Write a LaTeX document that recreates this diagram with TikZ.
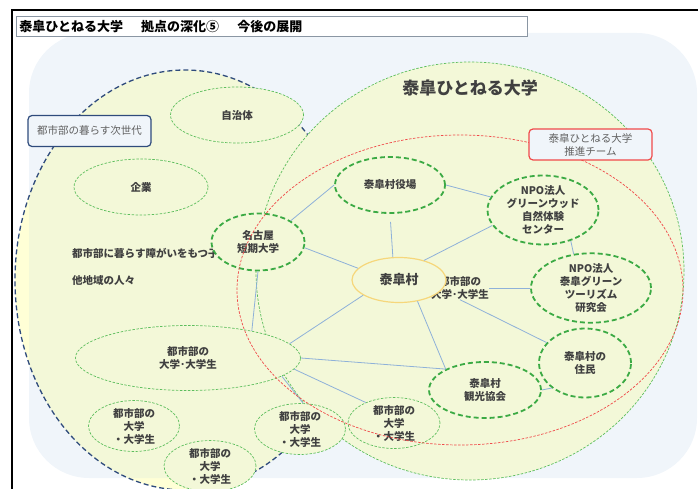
\documentclass[tikz,border=0pt]{standalone}
\usepackage{fontspec}
\setmainfont{Noto Sans CJK JP}
\usetikzlibrary{positioning}
\usetikzlibrary{shapes.geometric}
\definecolor{bgblue}{HTML}{F0F5FA}
\definecolor{paleyel}{HTML}{F3F8D8}
\definecolor{yelside}{HTML}{FFFFD6}
\definecolor{dgreen}{HTML}{3BAA44}
\definecolor{lgreen}{HTML}{5DBE5D}
\definecolor{navy}{HTML}{2F4B7C}
\definecolor{redline}{HTML}{F04A4A}
\definecolor{lblue}{HTML}{8EB1D9}
\definecolor{muragelb}{HTML}{F6D77B}
\definecolor{dgray}{HTML}{404040}
\definecolor{mgray}{HTML}{606060}
\definecolor{titelrand}{HTML}{8A96A3}
\tikzset{
	txt/.style={font=\bfseries\fontsize{10.5}{13}\selectfont, text=dgray},
	punkt/.style={
		ellipse,
		draw=dgreen, line width=1.8pt,
		dash pattern=on 5pt off 3pt,
		fill=paleyel,
		inner sep=0pt,
		align=center, txt},
	wolke/.style={
		ellipse,
		draw=lgreen, line width=0.7pt,
		dash pattern=on 2.5pt off 1.5pt,
		fill=paleyel,
		inner sep=0pt,
		align=center, txt},
	zentrum/.style={
		ellipse,
		draw=muragelb, line width=1.2pt,
		fill=paleyel,
		inner sep=0pt,
		font=\bfseries\fontsize{13}{15}\selectfont, text=dgray},
	schild/.style={
		rectangle,
		rounded corners=4pt,
		fill=bgblue, line width=1.2pt,
		minimum width=123pt, minimum height=31pt,
		align=center, text=mgray,
		font=\fontsize{10.5}{13}\selectfont},
	frei/.style={inner sep=0pt, align=center, txt},
	line/.style={draw=lblue, line width=0.8pt},
	randdash/.style={line width=0.7pt, dash pattern=on 2.5pt off 1.5pt},
}

\begin{document}
\begin{tikzpicture}[x=1pt,y=-1pt]
	\useasboundingbox (0,0) rectangle (698,489);
	\clip (0,0) rectangle (698,489);
	% background
	\fill[bgblue, rounded corners=60pt] (29,33) rectangle (697,478);
	% next generation in the cities
	\fill[yelside] (185,280) ellipse [x radius=170pt, y radius=210pt];
	\begin{scope}
		\clip[rounded corners=60pt] (29,33) rectangle (697,478);
		\fill[paleyel] (185,280) ellipse [x radius=170pt, y radius=210pt];
	\end{scope}
	\draw[navy, line width=1.3pt, dash pattern=on 5pt off 3pt] (185,280) ellipse [x radius=170pt, y radius=210pt];
	% university
	\filldraw[fill=paleyel, draw=lgreen, randdash] (470,271) ellipse [x radius=214pt, y radius=209pt];
	\node[font=\bfseries\fontsize{17}{20}\selectfont, text=dgray] (unititel) at (470,88) {泰皐ひとねる大学};

	\node[frei, anchor=west] (kinder) at (72,253) {都市部に暮らす障がいをもつ子ども};
	\node[frei, anchor=west] (andere) at (72,281) {他地域の人々};
	\node[frei] (studis) at (460,288) {都市部の\\大学･大学生};

	\node[wolke, minimum width=133pt, minimum height=56pt] (gemeinde) at (237,115) {自治体};
	\node[wolke, minimum width=134pt, minimum height=56pt] (firma) at (141,187) {企業};
	\node[wolke, minimum width=225pt, minimum height=65pt] (gross) at (188,358) {都市部の\\大学･大学生};
	\node[wolke, minimum width=91pt, minimum height=43pt] (uni1) at (134,426) {都市部の\\大学\\・大学生};
	\node[wolke, minimum width=92pt, minimum height=43pt] (uni2) at (210,466) {都市部の\\大学\\・大学生};
	\node[wolke, minimum width=91pt, minimum height=44pt] (uni3) at (300,429) {都市部の\\大学\\・大学生};
	\node[wolke, minimum width=92pt, minimum height=43pt] (uni4) at (394,423) {都市部の\\大学\\・大学生};

	\node[punkt, minimum width=110pt, minimum height=56pt] (yakuba) at (390,185) {泰皐村役場};
	\node[punkt, minimum width=93pt, minimum height=57pt] (nagoya) at (258,242) {名古屋\\短期大学};
	\node[punkt, minimum width=111pt, minimum height=55pt] (npo1) at (543,210) {NPO法人\\グリーンウッド\\自然体験\\センター};
	\node[punkt, minimum width=120pt, minimum height=57pt] (npo2) at (591,288) {NPO法人\\泰皐グリーン\\ツーリズム\\研究会};
	\node[punkt, minimum width=92pt, minimum height=69pt] (jumin) at (585,363) {泰皐村の\\住民};
	\node[punkt, minimum width=112pt, minimum height=56pt] (kanko) at (485,390) {泰皐村\\観光協会};
	\node[zentrum, minimum width=94pt, minimum height=45pt] (mura) at (399,280) {泰皐村};

	\path[line] (mura.164) -- (nagoya.-7);
	\path[line, shorten >=8pt] (mura.105) -- (yakuba.-90);
	\path[line] (mura.38) -- (npo1.197);
	\path[line] (mura.203) -- (gross.8);
	\path[line] (mura.-49) -- (kanko.152);
	\path[line] (nagoya.33) -- (yakuba.180);
	\path[line] (yakuba.0) -- (npo1.166);
	\path[line] (npo1.-48) -- (npo2.117);
	\path[line] (studis.east) -- (npo2.west);
	\path[line] (studis.south) -- (jumin.152);
	\path[line] (jumin.217) -- (kanko.east);
	\path[line] (gross.east) -- (kanko.152);
	\path[line] (gross.-6) -- (uni4.144);
	\path[line] (nagoya.south) -- (gross.23);
	\path[line] (gross.-11) -- (uni3.83);

	% team
	\draw[redline, randdash] (460,290) ellipse [x radius=223pt, y radius=155pt];
	\node[schild, draw=navy] (generation) at (89.5,131) {都市部の暮らす次世代};
	\node[schild, draw=redline] (team) at (590.5,144.5) {泰皐ひとねる大学\\推進チーム};

	% frame and title
	\draw[black, line width=1.6pt] (12,489) -- (12,10) -- (698,10);
	\node[draw=titelrand, fill=white, line width=0.8pt, anchor=north west,
		text width=505pt, inner xsep=3pt, minimum height=20pt,
		font=\bfseries\fontsize{13}{15}\selectfont, align=left] (titel) at (16,16)
		{泰皐ひとねる大学\hspace{1.4em}拠点の深化⑤\hspace{1.4em}今後の展開};
\end{tikzpicture}
\end{document}
